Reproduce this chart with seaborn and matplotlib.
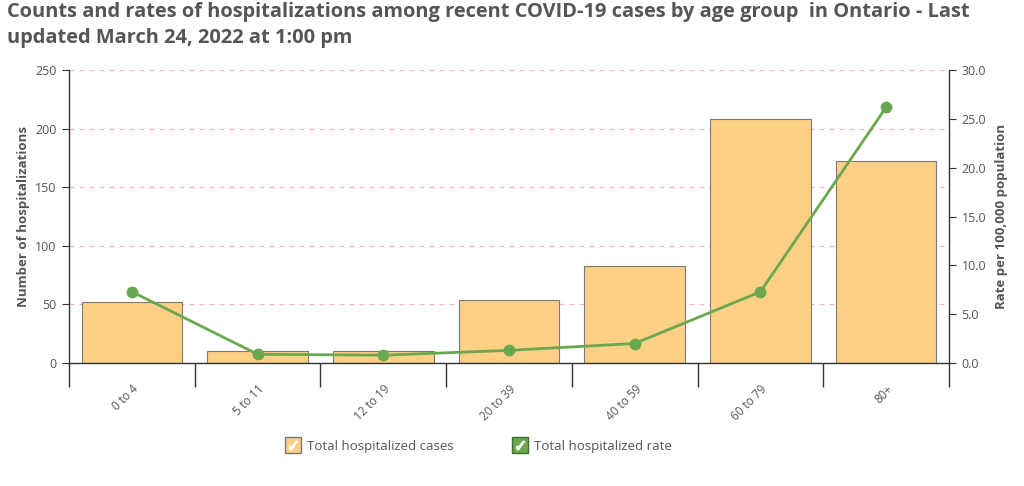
import numpy as np
import pandas as pd
import matplotlib
matplotlib.use("Agg")
import matplotlib.pyplot as plt
from matplotlib.lines import Line2D
from matplotlib.legend_handler import HandlerTuple
import seaborn as sns

# data
age_groups = ["0 to 4", "5 to 11", "12 to 19", "20 to 39", "40 to 59", "60 to 79", "80+"]
hosp_counts = [52, 10, 10, 54, 83, 208, 172]
hosp_rates = [7.3, 0.9, 0.8, 1.3, 2.0, 7.3, 26.2]

df = pd.DataFrame({"age": age_groups, "cases": hosp_counts, "rate": hosp_rates})

sns.set_style("white")
plt.rcParams["font.family"] = ["Open Sans", "DejaVu Sans"]
grey = "#555555"
bar_col = "#fdd085"
line_col = "#6aa84f"

fig = plt.figure(figsize=(10.24, 4.86), dpi=100)
ax = fig.add_axes([0.0674, 0.253, 0.8594, 0.603])

sns.barplot(data=df, x="age", y="cases", color=bar_col, edgecolor="#7a7a7a",
            linewidth=0.8, width=0.8, saturation=1, ax=ax)
ax.set_ylim(0, 250)
ax.set_yticks([0, 50, 100, 150, 200, 250])
for y in [50, 100, 150, 200, 250]:
    ax.axhline(y, color="#f2b8b8", linestyle=(0, (4, 4)), linewidth=0.9, zorder=0)

ax2 = ax.twinx()
sns.pointplot(data=df, x="age", y="rate", color=line_col, markers="o",
              markersize=7, linewidth=2, ax=ax2)
ax2.set_ylim(0, 30)
ax2.set_yticks(np.arange(0, 31, 5))
ax2.set_yticklabels([f"{v:.1f}" for v in np.arange(0, 31, 5)])

for a in (ax, ax2):
    a.set_xlim(-0.5, len(age_groups) - 0.5)
    for s in a.spines.values():
        s.set_visible(False)
    a.set_xlabel("")

ax.spines["left"].set_visible(True)
ax.spines["bottom"].set_visible(True)
ax2.spines["right"].set_visible(True)
for s in (ax.spines["left"], ax.spines["bottom"], ax2.spines["right"]):
    s.set_color("#333333")
    s.set_linewidth(1)

# x ticks at category boundaries, labels at centres (x axis is shared with ax2)
ax.set_xticks(np.arange(-0.5, len(age_groups), 1.0))
ax.set_xticklabels([])
ax.tick_params(axis="x", which="major", bottom=True, length=17,
               color="#333333", width=1)
ax.set_xticks(np.arange(len(age_groups)), minor=True)
ax.set_xticklabels(age_groups, minor=True, rotation=45, ha="right",
                   rotation_mode="anchor", fontsize=8.5, color=grey)
ax.tick_params(axis="x", which="minor", bottom=True, length=0, pad=14)
ax2.tick_params(axis="x", which="both", bottom=False, top=False,
                labelbottom=False, labeltop=False)

ax.tick_params(axis="y", left=True, length=5, color="#333333", labelsize=9,
               labelcolor=grey, pad=4)
ax2.tick_params(axis="y", right=True, length=5, color="#333333", labelsize=9,
                labelcolor=grey, pad=4)

ax.set_ylabel("Number of hospitalizations", fontsize=9.5, fontweight="bold",
              color=grey, labelpad=4)
ax2.set_ylabel("Rate per 100,000 population", fontsize=9.5, fontweight="bold",
               color=grey, labelpad=6)

fig.text(0.007, 0.995,
         "Counts and rates of hospitalizations among recent COVID-19 cases by age group  in Ontario - Last\n"
         "updated March 24, 2022 at 1:00 pm",
         ha="left", va="top", fontsize=14.4, fontweight="bold", color=grey,
         linespacing=1.35)

# legend with check boxes
h1 = (Line2D([], [], marker="s", markersize=12, linestyle="none",
             markerfacecolor=bar_col, markeredgecolor="#777777"),
      Line2D([], [], marker=r"$\checkmark$", markersize=6, linestyle="none",
             color="white"))
h2 = (Line2D([], [], marker="s", markersize=12, linestyle="none",
             markerfacecolor=line_col, markeredgecolor="#3f6e2a"),
      Line2D([], [], marker=r"$\checkmark$", markersize=6, linestyle="none",
             color="white"))
fig.legend([h1, h2], ["Total hospitalized cases", "Total hospitalized rate"],
           handler_map={tuple: HandlerTuple(ndivide=1, pad=0)},
           loc="center", bbox_to_anchor=(0.468, 0.082), ncol=2, frameon=False,
           fontsize=9.5, labelcolor=grey, handlelength=1.0, handletextpad=0.55,
           columnspacing=4.5)

fig.savefig("out.png", dpi=100)
